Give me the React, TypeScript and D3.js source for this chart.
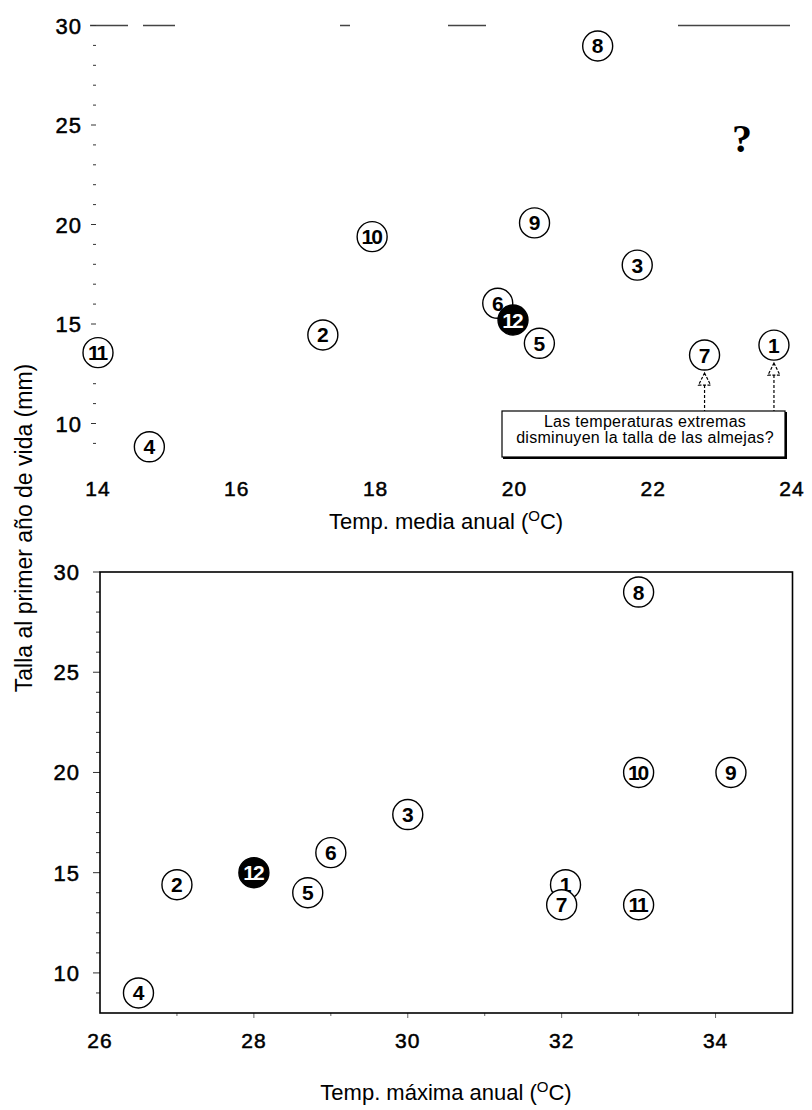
import * as React from 'react'
import * as d3 from 'd3'

const WIDTH = 812
const HEIGHT = 1110
const FONT = '"Liberation Sans", Arial, sans-serif'

// sitios de muestreo (1..12), el 12 va relleno
const SITES = ['1', '2', '3', '4', '5', '6', '7', '8', '9', '10', '11', '12']
const HIGHLIGHT = '12'
// panel de arriba: temperatura media anual
const MEDIA_X = [23.74, 17.24, 21.77, 14.74, 20.36, 19.76, 22.74, 21.2, 20.29, 17.95, 14.0, 19.98]
const MEDIA_Y = [13.94, 14.45, 17.96, 8.83, 14.03, 16.04, 13.44, 28.97, 20.08, 19.39, 13.56, 15.2]
// panel de abajo: temperatura maxima anual
const MAXIMA_X = [32.05, 27.0, 30.0, 26.5, 28.7, 29.0, 32.0, 33.0, 34.2, 33.0, 33.0, 28.0]
const MAXIMA_Y = [14.4, 14.4, 17.9, 9.0, 14.0, 16.0, 13.4, 29.0, 20.0, 20.0, 13.4, 15.0]

const MEDIA_TICKS = [14, 16, 18, 20, 22, 24]
const MAXIMA_TICKS = [26, 28, 30, 32, 34]
const TALLA_TICKS = [10, 15, 20, 25, 30]
const TALLA_MINOR = d3.range(9, 31)

const ARROW_SITES = ['7', '1']
const NOTE_LINES = ['Las temperaturas extremas', 'disminuyen la talla de las almejas?']

const Y_TITLE = 'Talla al primer año de vida (mm)'
const X_TITLE_TOP = 'Temp. media anual ('
const X_TITLE_BOTTOM = 'Temp. máxima anual ('

const R = 15

type Sel = d3.Selection<SVGGElement, unknown, null, undefined>

function drawSites(
  g: Sel,
  xs: number[],
  ys: number[],
  x: d3.ScaleLinear<number, number>,
  y: d3.ScaleLinear<number, number>
) {
  const order = d3.range(SITES.length)
  // el sitio resaltado siempre encima
  order.sort((a, b) => (SITES[a] === HIGHLIGHT ? 1 : 0) - (SITES[b] === HIGHLIGHT ? 1 : 0))
  const site = g
    .selectAll('g.site')
    .data(order)
    .join('g')
    .attr('class', 'site')
    .attr('transform', i => `translate(${x(xs[i])},${y(ys[i])})`)
  site
    .append('circle')
    .attr('r', R)
    .attr('fill', i => (SITES[i] === HIGHLIGHT ? '#000' : '#fff'))
    .attr('stroke', '#000')
    .attr('stroke-width', 1.4)
  site
    .append('text')
    .attr('text-anchor', 'middle')
    .attr('y', 7.5)
    .attr('font-family', FONT)
    .attr('font-weight', 'bold')
    .attr('font-size', 21)
    .attr('letter-spacing', i => (SITES[i].length > 1 ? -2 : 0))
    .attr('dx', i => (SITES[i].length > 1 ? -1 : 0))
    .attr('fill', i => (SITES[i] === HIGHLIGHT ? '#fff' : '#000'))
    .text(i => SITES[i])
}

function drawYLabels(g: Sel, y: d3.ScaleLinear<number, number>, xRight: number) {
  g.selectAll('text.ytick')
    .data(TALLA_TICKS)
    .join('text')
    .attr('class', 'ytick')
    .attr('x', xRight)
    .attr('y', d => y(d) + 8)
    .attr('text-anchor', 'end')
    .attr('font-family', FONT)
    .attr('font-size', 22)
    .attr('letter-spacing', 1)
    .attr('stroke', '#000')
    .attr('stroke-width', 0.5)
    .text(d => d)
}

function drawXLabels(
  g: Sel,
  x: d3.ScaleLinear<number, number>,
  ticks: number[],
  baseline: number
) {
  g.selectAll('text.xtick')
    .data(ticks)
    .join('text')
    .attr('class', 'xtick')
    .attr('x', d => x(d))
    .attr('y', baseline)
    .attr('text-anchor', 'middle')
    .attr('font-family', FONT)
    .attr('font-size', 21)
    .attr('letter-spacing', 1)
    .attr('stroke', '#000')
    .attr('stroke-width', 0.5)
    .text(d => d)
}

function drawXTitle(g: Sel, cx: number, baseline: number, label: string) {
  const t = g
    .append('text')
    .attr('x', cx)
    .attr('y', baseline)
    .attr('text-anchor', 'middle')
    .attr('font-family', FONT)
    .attr('font-size', 22)
  t.append('tspan').text(label)
  t.append('tspan').attr('dy', -8).attr('font-size', 15).text('O')
  t.append('tspan').attr('dy', 8).text('C)')
}

function initChart(svgRef: React.RefObject<SVGSVGElement | null>) {
  const svg = d3.select(svgRef.current)
  svg.selectAll('*').remove()

  // ---- panel superior
  const xTop = d3.scaleLinear().domain([14, 24]).range([98, 792])
  const yTop = d3.scaleLinear().domain([8, 30]).range([463.3, 25.5])
  const top = svg.append('g') as unknown as Sel

  // borde de arriba roto (escaneado)
  top
    .append('line')
    .attr('x1', 90)
    .attr('x2', 790)
    .attr('y1', yTop(30))
    .attr('y2', yTop(30))
    .attr('stroke', '#444')
    .attr('stroke-width', 1.3)
    .attr('stroke-dasharray', '38 15 32 165 10 98 38 192 112')

  top
    .selectAll('line.minor')
    .data(TALLA_MINOR)
    .join('line')
    .attr('class', 'minor')
    .attr('x1', d => (d % 5 === 0 ? 91 : 93))
    .attr('x2', 96)
    .attr('y1', d => yTop(d))
    .attr('y2', d => yTop(d))
    .attr('stroke', '#333')
    .attr('stroke-width', 1)
  drawYLabels(top, yTop, 82)
  drawXLabels(top, xTop, MEDIA_TICKS, 496)
  drawXTitle(top, 446, 529, X_TITLE_TOP)

  // nota con flechas
  const note = top.append('g')
  note
    .append('rect')
    .attr('x', 502)
    .attr('y', 411)
    .attr('width', 283)
    .attr('height', 46)
    .attr('fill', '#fff')
    .attr('stroke', '#000')
    .attr('stroke-width', 1.2)
  note
    .append('polyline')
    .attr('points', '503,458 786,458 786,412')
    .attr('fill', 'none')
    .attr('stroke', '#000')
    .attr('stroke-width', 2)
  note
    .selectAll('text')
    .data(NOTE_LINES)
    .join('text')
    .attr('x', 645)
    .attr('y', (d, i) => 427 + i * 16)
    .attr('text-anchor', 'middle')
    .attr('font-family', FONT)
    .attr('font-size', 16)
    .attr('letter-spacing', 0.3)
    .text(d => d)

  ARROW_SITES.forEach(s => {
    const i = SITES.indexOf(s)
    const ax = xTop(MEDIA_X[i])
    const tip = yTop(MEDIA_Y[i]) + R + 3
    note
      .append('line')
      .attr('x1', ax)
      .attr('x2', ax)
      .attr('y1', tip + 12)
      .attr('y2', 411)
      .attr('stroke', '#000')
      .attr('stroke-width', 1.2)
      .attr('stroke-dasharray', '3 2')
    note
      .append('path')
      .attr('d', `M${ax},${tip}L${ax + 6},${tip + 12}L${ax - 6},${tip + 12}Z`)
      .attr('fill', '#fff')
      .attr('stroke', '#000')
      .attr('stroke-width', 1.2)
      .attr('stroke-dasharray', '3 1.5')
  })

  top
    .append('text')
    .attr('x', 742)
    .attr('y', 152)
    .attr('text-anchor', 'middle')
    .attr('font-family', '"Liberation Serif", serif')
    .attr('font-weight', 'bold')
    .attr('font-size', 40)
    .text('?')

  drawSites(top, MEDIA_X, MEDIA_Y, xTop, yTop)

  // ---- panel inferior
  const xBot = d3.scaleLinear().domain([26, 35]).range([100, 792.5])
  const yBot = d3.scaleLinear().domain([8, 30]).range([1013, 572])
  const bot = svg.append('g') as unknown as Sel

  bot
    .selectAll('line.minor')
    .data(TALLA_MINOR)
    .join('line')
    .attr('class', 'minor')
    .attr('x1', d => (d % 5 === 0 ? 93 : 96))
    .attr('x2', 100)
    .attr('y1', d => yBot(d))
    .attr('y2', d => yBot(d))
    .attr('stroke', '#333')
    .attr('stroke-width', 1)
  bot
    .selectAll('line.xminor')
    .data(d3.range(27, 35))
    .join('line')
    .attr('class', 'xminor')
    .attr('x1', d => xBot(d))
    .attr('x2', d => xBot(d))
    .attr('y1', yBot(8))
    .attr('y2', d => yBot(8) + (d % 2 === 0 ? 5 : 3))
    .attr('stroke', '#666')
    .attr('stroke-width', 1)
  bot
    .append('rect')
    .attr('x', xBot(26))
    .attr('y', yBot(30))
    .attr('width', xBot(35) - xBot(26))
    .attr('height', yBot(8) - yBot(30))
    .attr('fill', 'none')
    .attr('stroke', '#000')
    .attr('stroke-width', 1.6)
  drawYLabels(bot, yBot, 80)
  drawXLabels(bot, xBot, MAXIMA_TICKS, 1048)
  drawXTitle(bot, 446, 1100, X_TITLE_BOTTOM)
  drawSites(bot, MAXIMA_X, MAXIMA_Y, xBot, yBot)

  // titulo del eje y compartido
  svg
    .append('text')
    .attr('transform', 'translate(32,528) rotate(-90)')
    .attr('text-anchor', 'middle')
    .attr('font-family', FONT)
    .attr('font-size', 23)
    .text(Y_TITLE)
}

export default function App() {
  const chartSvg = React.useRef<SVGSVGElement>(null)
  React.useEffect(() => {
    initChart(chartSvg)
  }, [])
  return (
    <svg
      ref={chartSvg}
      width={WIDTH}
      height={HEIGHT}
      style={{ position: 'absolute', left: 0, top: 0, background: '#fff' }}
    />
  )
}
